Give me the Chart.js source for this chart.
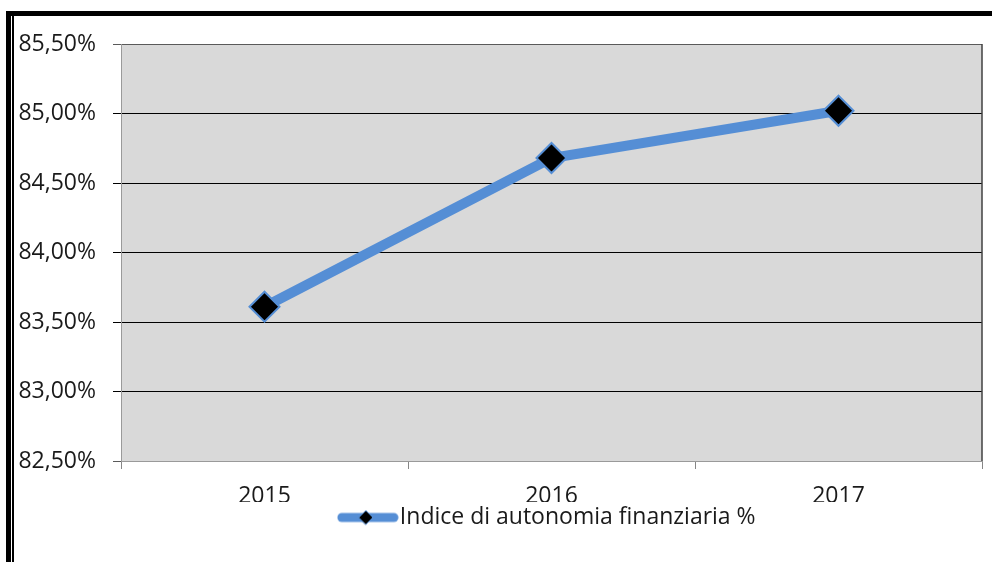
<!DOCTYPE html>
<html>
<head>
<meta charset="utf-8">
<script src="https://cdn.jsdelivr.net/npm/chart.js@4/dist/chart.umd.min.js"></script>
<style>
  html,body{margin:0;padding:0;background:#fff;overflow:hidden;}
  #wrap{position:relative;width:992px;height:562px;}
  #chart{position:absolute;left:0;top:0;}
  .bar{position:absolute;background:#000;}
</style>
</head>
<body>
<div id="wrap">
  <canvas id="chart" width="992" height="562"></canvas>
  <div class="bar" style="left:6px;top:11px;width:986px;height:5px;"></div>
  <div class="bar" style="left:6px;top:11px;width:5px;height:551px;"></div>
  <div class="bar" style="left:12px;top:16px;width:1.5px;height:546px;"></div>
</div>
<script>
const years = ["2015", "2016", "2017"];
const indice = [83.61, 84.68, 85.02];
const yMin = 82.5, yMax = 85.5, yStep = 0.5;
const seriesLabel = "Indice di autonomia finanziaria %";

const BLUE = "#558ED5";
const FONT = { family: "'Open Sans'", size: 23 };
const TEXT = "#1a1a1a";

// legend symbol: thick line with a diamond on it
const legendIcon = document.createElement("canvas");
legendIcon.width = 62; legendIcon.height = 22;
(function(){
  const c = legendIcon.getContext("2d");
  c.strokeStyle = BLUE; c.lineWidth = 9; c.lineCap = "round";
  c.beginPath(); c.moveTo(5, 11); c.lineTo(57, 11); c.stroke();
  c.beginPath(); c.moveTo(22, 11); c.lineTo(29, 4); c.lineTo(36, 11); c.lineTo(29, 18); c.closePath();
  c.fillStyle = "#000"; c.fill();
  c.lineWidth = 1; c.strokeStyle = BLUE; c.stroke();
})();

const plotBg = {
  id: "plotBg",
  afterLayout(chart){
    // center the legend under the plot area
    const a = chart.chartArea, lg = chart.legend;
    if (!lg) return;
    const dx = (a.left + a.right) / 2 - (lg.left + lg.right) / 2;
    lg.left += dx; lg.right += dx;
  },
  beforeDraw(chart){
    const {ctx, chartArea:a} = chart;
    ctx.save(); ctx.fillStyle = "#D9D9D9";
    ctx.fillRect(a.left, a.top, a.right - a.left, a.bottom - a.top);
    ctx.restore();
  },
  beforeDatasetsDraw(chart){
    const {ctx, chartArea:a} = chart;
    ctx.save(); ctx.strokeStyle = "#404040"; ctx.lineWidth = 1.5;
    ctx.beginPath(); ctx.moveTo(a.right, a.top); ctx.lineTo(a.right, a.bottom); ctx.stroke();
    ctx.restore();
  }
};

new Chart(document.getElementById("chart"), {
  type: "line",
  data: {
    labels: years,
    datasets: [{
      label: seriesLabel,
      data: indice,
      borderColor: BLUE,
      borderWidth: 10,
      tension: 0,
      pointStyle: "rectRot",
      pointRadius: 15,
      pointHoverRadius: 15,
      pointBackgroundColor: "#000",
      pointBorderColor: BLUE,
      pointBorderWidth: 2
    }]
  },
  options: {
    responsive: false,
    devicePixelRatio: 1,
    animation: false,
    layout: { autoPadding: false, padding: { left: 14, top: 44, right: 10, bottom: 23 } },
    scales: {
      x: {
        offset: true,
        grid: { offset: true, drawOnChartArea: false, tickLength: 8, color: "#868686" },
        border: { color: "#9a9a9a" },
        ticks: { font: FONT, color: TEXT, padding: 14, maxRotation: 0 },
        afterFit(s){ s.height = 41; }
      },
      y: {
        min: yMin, max: yMax,
        grid: {
          tickLength: 8,
          color: c => (c.tick && (c.tick.value === yMax || c.tick.value === yMin)) ? "#5a5a5a" : "#000"
        },
        border: { color: "#9a9a9a" },
        ticks: {
          stepSize: yStep, font: FONT, color: TEXT, padding: 17,
          callback: v => v.toFixed(2).replace(".", ",") + "%"
        },
        afterFit(s){ s.width = 107; }
      }
    },
    plugins: {
      tooltip: { enabled: false },
      legend: {
        position: "bottom",
        labels: {
          font: FONT, color: TEXT, padding: 4,
          usePointStyle: true, pointStyleWidth: 41,
          generateLabels(chart){
            return chart.data.datasets.map((d, i) => ({
              text: d.label, fillStyle: BLUE, strokeStyle: BLUE, lineWidth: 0,
              pointStyle: legendIcon, datasetIndex: i, fontColor: TEXT
            }));
          }
        }
      }
    }
  },
  plugins: [plotBg]
});
</script>
</body>
</html>
